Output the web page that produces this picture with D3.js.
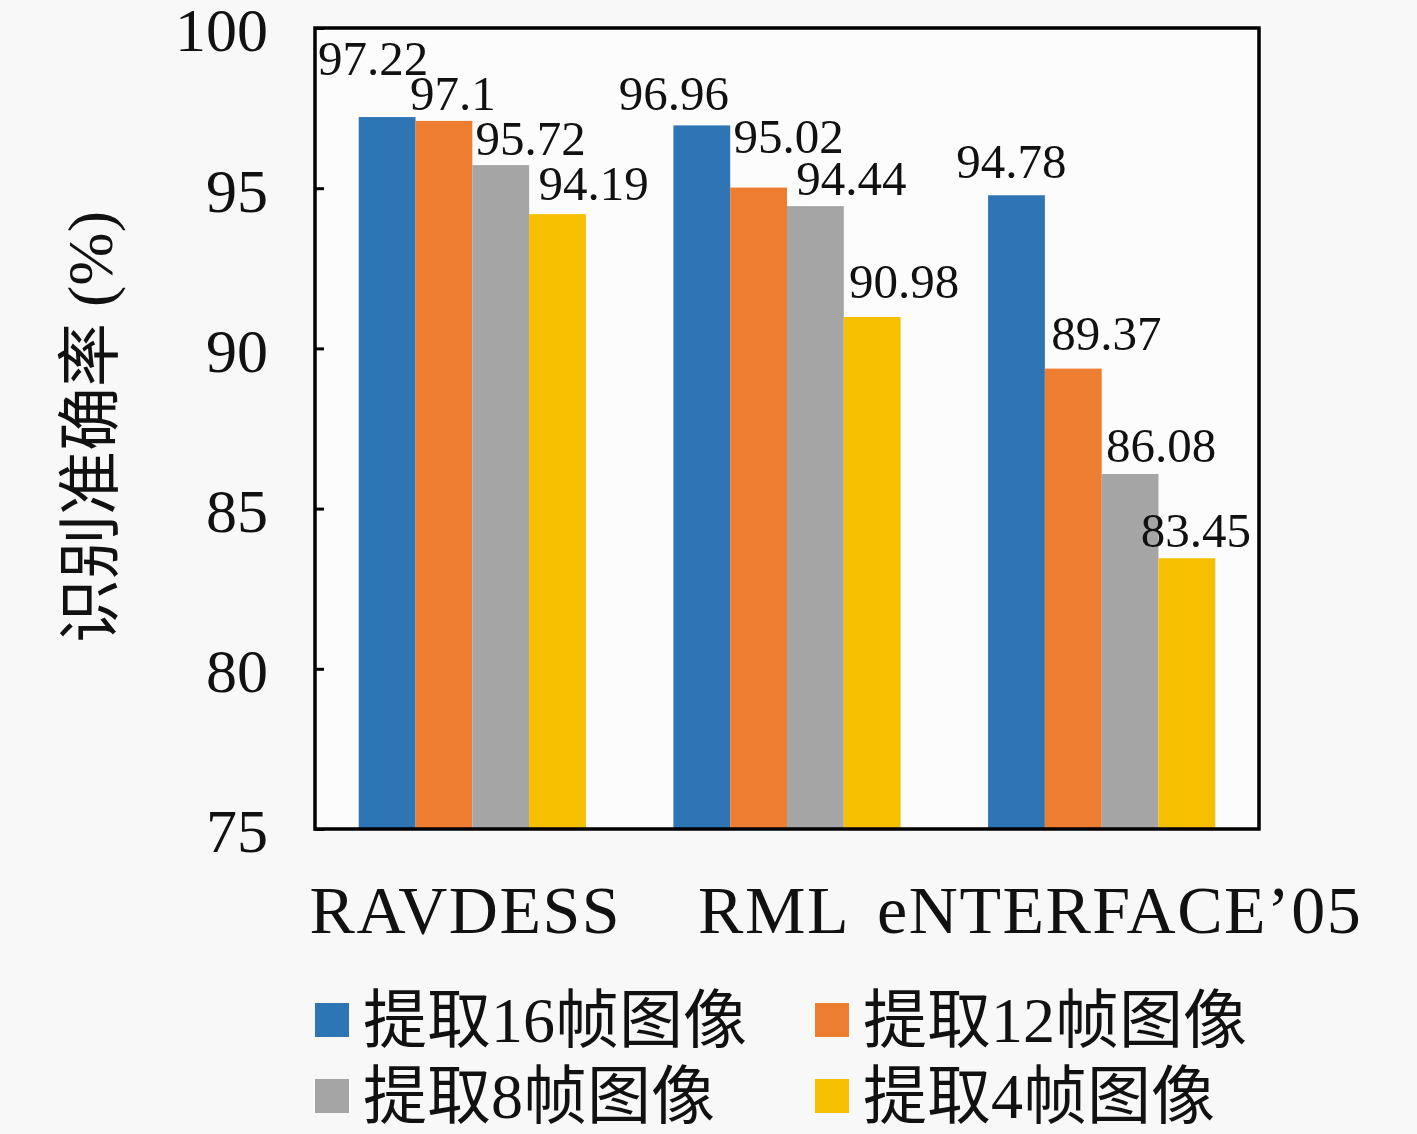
<!DOCTYPE html>
<html>
<head>
<meta charset="utf-8">
<script src="https://cdn.jsdelivr.net/npm/d3@7"></script>
<style>
  html, body { margin: 0; padding: 0; background: #f8f8f8; }
  svg { display: block; font-family: "Liberation Serif", serif; }
</style>
</head>
<body>
<svg id="chart" width="1417" height="1134"></svg>
<script>
const datasets = ["RAVDESS", "RML", "eNTERFACE’05"];
const seriesNames = ["提取16帧图像", "提取12帧图像", "提取8帧图像", "提取4帧图像"];
const frames16 = [97.22, 96.96, 94.78];
const frames12 = [97.1, 95.02, 89.37];
const frames8 = [95.72, 94.44, 86.08];
const frames4 = [94.19, 90.98, 83.45];
const yTicks = [75, 80, 85, 90, 95, 100];
const colors = ["#2e75b6", "#ed7d31", "#a5a5a5", "#f6c000"];

// hand placed value labels in the original, nudged from bar centre / bar top
const labelDx = [[-14, -28, -5], [9, 30, 33], [30, 36, 31], [36, 32, 9]];
const labelDy = [[-42, -15, -17], [-11, -35, -19], [-10, -11, -12], [-14, -19, -11]];
const categoryDx = [-7, -13, 18];

const seriesValues = [frames16, frames12, frames8, frames4];

const margin = { top: 28, right: 158, bottom: 305, left: 315 };
const width = 1417, height = 1134;

const svg = d3.select("#chart");

// lay out mixed text as separate runs: latin in serif, hanzi in the CJK font
function mixedText(g, str, size) {
  const parts = str.match(/[\u3000-\u9fff]+|[^\u3000-\u9fff]+/g);
  let cx = 0;
  const runs = [];
  parts.forEach((p) => {
    const cjk = /[\u3000-\u9fff]/.test(p);
    const t = g.append("text")
      .attr("x", cx)
      .attr("font-size", size)
      .attr("font-family", cjk ? "Noto Sans CJK SC" : "Liberation Serif")
      .attr("fill", "#111")
      .attr("xml:space", "preserve")
      .style("white-space", "pre")
      .text(p);
    cx += t.node().getComputedTextLength();
    runs.push(t);
  });
  return cx;
}

const x0 = d3.scaleBand().domain(datasets).range([margin.left, width - margin.right]);
const x1 = d3.scaleBand().domain(d3.range(seriesNames.length))
  .range([0, x0.bandwidth()]).paddingOuter(0.77).paddingInner(0);
const y = d3.scaleLinear().domain([75, 100]).range([height - margin.bottom, margin.top]);

svg.append("rect")
  .attr("x", margin.left).attr("y", margin.top)
  .attr("width", width - margin.left - margin.right)
  .attr("height", height - margin.top - margin.bottom)
  .attr("fill", "#fcfcfc");

const groups = svg.append("g").selectAll("g")
  .data(datasets)
  .join("g")
  .attr("transform", (d) => `translate(${x0(d)},0)`);

groups.selectAll("rect")
  .data((d, gi) => seriesValues.map((vals, si) => ({ si, gi, v: vals[gi] })))
  .join("rect")
  .attr("x", (d) => x1(d.si))
  .attr("y", (d) => y(d.v))
  .attr("width", x1.bandwidth())
  .attr("height", (d) => y(75) - y(d.v))
  .attr("fill", (d) => colors[d.si]);

groups.selectAll("text")
  .data((d, gi) => seriesValues.map((vals, si) => ({ si, gi, v: vals[gi] })))
  .join("text")
  .attr("x", (d) => x1(d.si) + x1.bandwidth() / 2 + labelDx[d.si][d.gi])
  .attr("y", (d) => y(d.v) + labelDy[d.si][d.gi])
  .attr("text-anchor", "middle")
  .attr("font-size", 49)
  .attr("fill", "#111")
  .text((d) => d.v);

// left axis, ticks pointing inward
const yAxis = svg.append("g")
  .attr("transform", `translate(${margin.left},0)`)
  .call(d3.axisLeft(y).tickValues(yTicks).tickSizeInner(-9).tickSizeOuter(0).tickPadding(47));
yAxis.select(".domain").remove();
yAxis.selectAll("line").attr("stroke", "#000").attr("stroke-width", 3);
yAxis.selectAll("text")
  .attr("font-size", 62)
  .attr("font-family", "Liberation Serif, serif")
  .attr("fill", "#111")
  .attr("dy", "0.37em");

// frame
svg.append("rect")
  .attr("x", margin.left).attr("y", margin.top)
  .attr("width", width - margin.left - margin.right)
  .attr("height", height - margin.top - margin.bottom)
  .attr("fill", "none").attr("stroke", "#000").attr("stroke-width", 3.5);

svg.append("g").selectAll("text")
  .data(datasets)
  .join("text")
  .attr("x", (d, i) => x0(d) + x0.bandwidth() / 2 + categoryDx[i])
  .attr("y", 933)
  .attr("text-anchor", "middle")
  .attr("font-size", 68)
  .attr("letter-spacing", 1.5)
  .attr("fill", "#111")
  .text((d) => d);

// y title, rotated and centred on the plot
const title = svg.append("g");
const titleLen = mixedText(title, "识别准确率 (%)", 64);
title.attr("transform", `translate(112,${427 + titleLen / 2}) rotate(-90)`);

const legend = svg.append("g").selectAll("g")
  .data(seriesNames)
  .join("g")
  .attr("transform", (d, i) => `translate(${315 + (i % 2) * 500},${1020 + Math.floor(i / 2) * 76})`);

legend.append("rect")
  .attr("x", 0).attr("y", -17)
  .attr("width", 34).attr("height", 34)
  .attr("fill", (d, i) => colors[i]);

legend.append("g")
  .attr("transform", "translate(48,22)")
  .each(function (d) { mixedText(d3.select(this), d, 64); });
</script>
</body>
</html>
